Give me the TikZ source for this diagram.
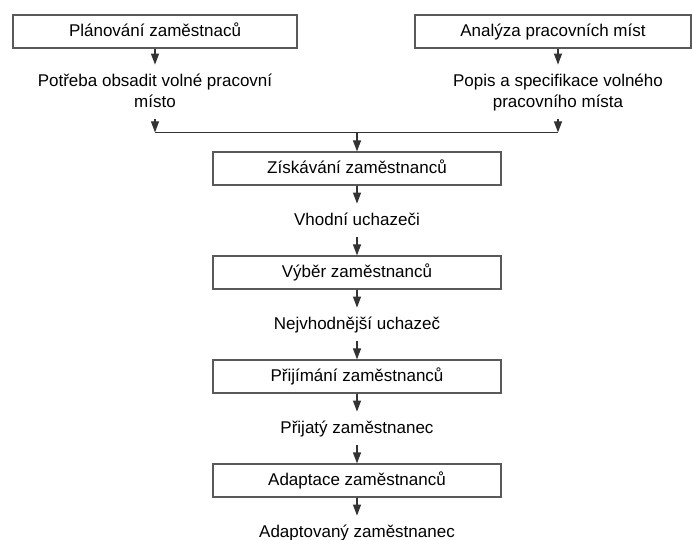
\documentclass[tikz,border=0pt]{standalone}
\usepackage{fontspec}
\setmainfont{Liberation Sans}
\usetikzlibrary{arrows.meta,positioning}

\begin{document}
\begin{tikzpicture}[
    x = 0.5pt, y = -0.5pt, % one unit = one pixel of the sheet
    > = {Triangle[width=4pt,length=5.5pt]}, % arrow head style
    node distance = 9pt, % distance between nodes
    line width = 0.6pt, % line style
    draw = black!80,
    font = \fontsize{8.5pt}{10.5pt}\selectfont
    ]

    \tikzset{
    process/.style = {
    draw = black!65,
    minimum width = 144pt,
    minimum height = 16.5pt,
    text height = 6.5pt,
    text depth = 1.8pt,
    inner sep = 2pt
    },
    outcome/.style = {
    align = center,
    text height = 6.5pt,
    text depth = 1.8pt,
    inner xsep = 2pt,
    inner ysep = 4pt
    },
    twoline/.style = {text height = 17pt}
    }
    \useasboundingbox (0,0) rectangle (692,540);

    % two sources at the top
    \node[process, minimum width = 142pt] (plan) at (155,31.5) {Plánování zaměstnaců};
    \node[outcome, twoline] (potreba) [below = 8pt of plan] {Potřeba obsadit volné pracovní\\místo};
    \node[process, minimum width = 138pt] (analyza) at (553,31.5) {Analýza pracovních míst};
    \node[outcome, twoline] (popis) [below = 8pt of analyza, xshift = 2.5pt] {Popis a specifikace volného\\pracovního místa};

    % main chain
    \node[process] (ziskani) at (357,168.5) {Získávání zaměstnanců};
    \node[outcome] (vhodni) [below = of ziskani] {Vhodní uchazeči};
    \node[process] (vyber) [below = of vhodni] {Výběr zaměstnanců};
    \node[outcome] (nejlepsi) [below = of vyber] {Nejvhodnější uchazeč};
    \node[process] (prijimani) [below = of nejlepsi] {Přijímání zaměstnanců};
    \node[outcome] (prijaty) [below = of prijimani] {Přijatý zaměstnanec};
    \node[process] (adaptace) [below = of prijaty] {Adaptace zaměstnanců};
    \node[outcome] (adaptovany) [below = of adaptace] {Adaptovaný zaměstnanec};

    \coordinate[above = 9.5pt of ziskani] (join);

    \path[->] (plan) edge (potreba);
    \path[->] (analyza.south -| popis) edge (popis);
    \draw[->] (potreba) -- (potreba |- join);
    \draw[->] (popis) -- (popis |- join);
    \draw (potreba |- join) -- (popis |- join);
    \draw[->] (join) -- (ziskani);

    \path[->] (ziskani) edge (vhodni);
    \path[->] (vhodni) edge (vyber);
    \path[->] (vyber) edge (nejlepsi);
    \path[->] (nejlepsi) edge (prijimani);
    \path[->] (prijimani) edge (prijaty);
    \path[->] (prijaty) edge (adaptace);
    \path[->] (adaptace) edge (adaptovany);
\end{tikzpicture}
\end{document}
